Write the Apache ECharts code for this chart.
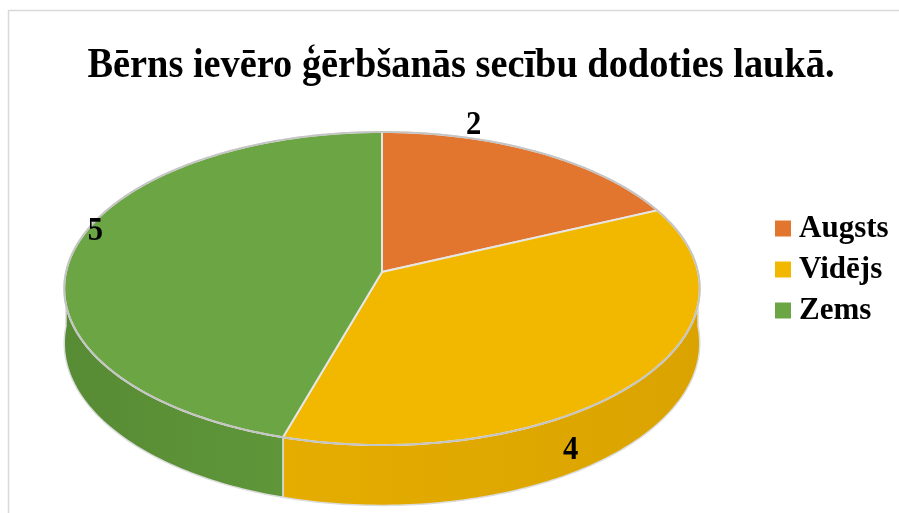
<!DOCTYPE html>
<html><head><meta charset="utf-8">
<script src="https://cdn.jsdelivr.net/npm/echarts@6/dist/echarts.min.js"></script>
<style>html,body{margin:0;padding:0;background:#fff}#c{width:899px;height:513px}</style>
</head><body><div id="c"></div>
<script>
const titleText = 'Bērns ievēro ģērbšanās secību dodoties laukā.';
const categories = ['Augsts', 'Vidējs', 'Zems'];
const values = [2, 4, 5];

const topColors = ['#E2762F', '#F2B800', '#6BA544'];
const wallColors = [['#C9652A', '#B85A24'], ['#E5AD00', '#DAA300'], ['#578B34', '#5F963A']];
const labelPlace = [{f: 0.26, r: 1.1, d: 0}, {f: 0.623, r: 1, d: 0.6}, {f: 0.548, r: 0.97, d: 0}];

const total = values.reduce((a, b) => a + b, 0);
const starts = [];
let acc = 0;
values.forEach(v => { starts.push(acc / total * 2 * Math.PI); acc += v; });

const G = {cx: 382, cy: 272, R: 316, RY: 154.8, k: 0.1055, H: 54};
function proj(ang, r, dz) {
  const phi = Math.PI / 2 - ang;
  const x = r * Math.cos(phi), y = r * Math.sin(phi);
  const s = 1 / (1 + G.k * y);
  const s1 = 1 / (1 + G.k * Math.sin(phi));
  return [G.cx + G.R * x * s, G.cy - G.RY * y * s + dz * G.H * s1];
}
function arcPts(a0, a1, r, dz) {
  const n = Math.max(2, Math.ceil((a1 - a0) / (Math.PI / 180)));
  const p = [];
  for (let j = 0; j <= n; j++) p.push(proj(a0 + (a1 - a0) * j / n, r, dz));
  return p;
}

function makeRender(i) {
  return function (params, api) {
    const v = api.value(0);
    const a0 = starts[i], a1 = a0 + v / total * 2 * Math.PI;
    const children = [];
    const w0 = Math.max(a0, Math.PI / 2), w1 = Math.min(a1, 3 * Math.PI / 2);
    if (w1 > w0) {
      const top = arcPts(w0, w1, 1, 0);
      const bot = arcPts(w0, w1, 1, 1).reverse();
      const xs = top.map(p => p[0]);
      const xa = Math.min.apply(null, xs), xb = Math.max.apply(null, xs);
      children.push({
        type: 'polygon', z2: 1,
        shape: {points: top.concat(bot)},
        style: {
          fill: {type: 'linear', x: xa, y: 0, x2: xb, y2: 0, global: true,
            colorStops: [{offset: 0, color: wallColors[i][0]}, {offset: 1, color: wallColors[i][1]}]},
          stroke: '#DCDCDC', lineWidth: 1.5
        }
      });
    }
    const rim = arcPts(a0, a1, 1, 0);
    children.push({
      type: 'polygon', z2: 2,
      shape: {points: [[G.cx, G.cy]].concat(rim)},
      style: {fill: topColors[i], stroke: '#E6E6E6', lineWidth: 2}
    });
    children.push({
      type: 'polyline', z2: 3,
      shape: {points: rim},
      style: {fill: null, stroke: '#C4C4C4', lineWidth: 1.8}
    });
    const lp = labelPlace[i];
    const pt = proj(a0 + (a1 - a0) * lp.f, lp.r, lp.d);
    children.push({
      type: 'text', z2: 10, x: pt[0], y: pt[1], scaleX: 0.9,
      style: {text: String(v), x: 0, y: 0, align: 'center', verticalAlign: 'middle',
        fontSize: 34, fontWeight: 'bold', fontFamily: '"Liberation Serif", "Times New Roman", serif', fill: '#000'}
    });
    return {type: 'group', children: children};
  };
}

const cv = document.createElement('canvas').getContext('2d');
cv.font = 'bold 43px "Liberation Serif"';
const titleW = cv.measureText(titleText).width;
const titleScale = 747 / titleW;

const chart = echarts.init(document.getElementById('c'));
chart.setOption({
  animation: false,
  color: topColors,
  legend: {
    orient: 'vertical', left: 770, top: 203, itemWidth: 16, itemHeight: 16, itemGap: 0, icon: 'rect',
    data: categories,
    textStyle: {fontSize: 31, fontWeight: 'bold', fontFamily: '"Liberation Serif", "Times New Roman", serif',
      color: '#000', lineHeight: 41, padding: [0, 0, 0, 3]}
  },
  graphic: [
    {type: 'rect', shape: {x: 8.5, y: 10.5, width: 1000, height: 600}, style: {fill: 'none', stroke: '#D9D9D9', lineWidth: 1.5}},
    {type: 'text', x: 461, y: 66, scaleX: titleScale,
      style: {text: titleText, x: 0, y: 0, align: 'center', verticalAlign: 'middle',
        fontSize: 43, fontWeight: 'bold', fontFamily: '"Liberation Serif", "Times New Roman", serif', fill: '#000'}}
  ],
  series: categories.map((name, i) => ({
    type: 'custom', name: name, coordinateSystem: 'none', z: 2,
    itemStyle: {color: topColors[i]},
    renderItem: makeRender(i),
    data: [[values[i]]]
  }))
});
</script></body></html>
